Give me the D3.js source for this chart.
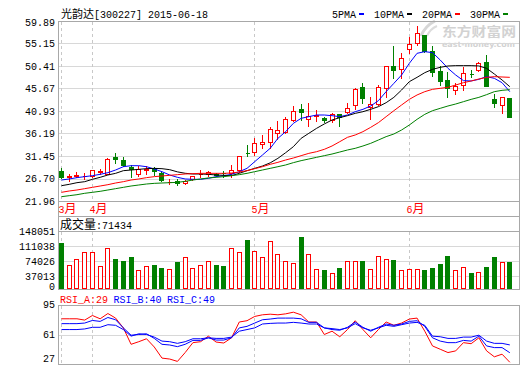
<!DOCTYPE html>
<html><head><meta charset="utf-8">
<script src="https://cdn.jsdelivr.net/npm/d3@7"></script>
<style>html,body{margin:0;padding:0;background:#fff;}svg{display:block;}text{white-space:pre;}</style>
</head><body>
<svg id="c" width="520" height="365"></svg>
<script>
const stockName = "光韵达";
const stockCode = "300227";
const dates = ["2015-03-26","2015-03-27","2015-03-30","2015-03-31",
"2015-04-01","2015-04-02","2015-04-03","2015-04-07","2015-04-08","2015-04-09","2015-04-10","2015-04-13","2015-04-14","2015-04-15","2015-04-16","2015-04-17","2015-04-20","2015-04-21","2015-04-22","2015-04-23","2015-04-24","2015-04-27","2015-04-28","2015-04-29","2015-04-30",
"2015-05-04","2015-05-05","2015-05-06","2015-05-07","2015-05-08","2015-05-11","2015-05-12","2015-05-13","2015-05-14","2015-05-15","2015-05-18","2015-05-19","2015-05-20","2015-05-21","2015-05-22","2015-05-25","2015-05-26","2015-05-27","2015-05-28","2015-05-29",
"2015-06-01","2015-06-02","2015-06-03","2015-06-04","2015-06-05","2015-06-08","2015-06-09","2015-06-10","2015-06-11","2015-06-12","2015-06-15","2015-06-16","2015-06-17","2015-06-18"];
const openP = [28.35,27.09,27.23,27.23,27.30,28.14,27.65,31.30,30.60,29.20,27.65,28.50,28.84,27.79,25.96,26.17,25.68,26.60,27.58,27.58,27.58,27.93,27.79,28.49,32.05,32.22,33.90,34.46,36.22,36.57,39.03,41.28,39.17,39.95,39.52,38.96,40.22,40.79,42.19,45.91,41.84,42.33,45.70,50.41,49.71,53.99,55.32,56.94,53.64,49.42,47.46,45.35,46.40,48.75,49.56,51.18,43.45,42.19,43.59];
const highP = [28.84,27.65,28.14,27.79,28.42,28.63,30.95,32.15,31.16,29.55,29.34,29.41,29.20,28.14,26.67,26.53,26.39,27.30,28.49,28.35,27.79,28.35,29.55,31.44,33.76,35.17,35.87,37.48,38.89,39.59,41.98,42.40,42.54,41.14,39.73,40.43,40.22,42.54,45.70,46.90,43.81,46.40,50.41,54.62,53.22,56.45,58.84,56.94,54.62,50.48,49.21,46.90,50.27,49.56,51.32,52.73,44.51,43.81,43.59];
const lowP = [26.74,26.25,26.95,26.53,27.09,27.65,27.65,30.04,29.34,26.95,27.30,27.65,27.44,26.25,25.54,25.33,25.54,26.39,27.09,27.23,27.30,27.09,27.09,28.14,31.44,31.65,33.20,33.20,34.95,36.22,38.89,39.03,37.76,38.89,38.68,38.68,37.84,40.43,41.28,42.54,39.24,42.19,43.81,47.95,47.81,53.08,54.83,53.43,48.30,46.40,43.81,44.51,45.35,48.16,49.42,46.26,41.70,40.57,39.73];
const closeP = [27.09,27.23,27.44,27.30,28.42,28.28,30.74,30.74,29.55,28.63,28.70,28.63,28.28,26.39,26.03,25.68,26.18,27.30,27.65,28.00,27.44,27.86,28.49,31.44,32.00,34.11,34.46,37.13,36.92,39.24,40.93,40.79,39.87,40.08,38.96,40.29,39.73,41.49,45.56,43.59,42.40,45.91,50.41,49.56,52.02,55.04,57.29,53.64,49.21,47.32,45.70,46.19,48.86,48.70,50.97,46.26,42.54,43.81,39.73];
const volume = [118190,65190,79380,95800,95800,62700,105000,80120,73400,85100,52750,62700,65190,57730,55240,70920,85100,57730,65190,75150,65190,62700,106750,95800,125660,97540,84350,124170,90080,75150,70170,132380,90080,55240,52750,45290,57730,75150,75150,73400,55240,87590,79380,77630,52750,55240,55240,52750,57730,67680,87590,52750,60220,45290,47780,60220,85100,70500,71434];
const ma5 = [26.38,26.60,26.88,27.09,27.30,27.58,27.93,28.49,29.19,29.40,29.40,29.19,28.70,28.14,27.44,26.95,26.60,26.53,26.53,26.74,27.09,27.30,27.58,28.14,28.84,30.25,31.65,33.06,35.16,36.57,38.33,39.38,39.73,40.08,40.08,39.94,39.73,40.08,40.78,41.28,41.98,43.10,45.00,46.75,48.51,50.97,53.08,53.43,53.22,51.67,49.92,48.51,47.32,47.25,47.60,48.16,47.81,46.89,45.00];
const ma10 = [25.19,25.47,25.82,26.03,26.53,26.95,27.44,27.79,28.35,28.49,28.63,28.77,28.84,28.77,28.56,28.10,27.80,27.65,27.65,27.58,27.44,27.37,27.30,27.79,28.35,28.84,29.33,30.00,30.95,32.14,33.41,35.16,36.22,37.27,38.19,39.03,39.52,39.94,40.43,40.78,41.28,41.84,42.68,43.80,45.35,47.11,48.02,49.00,49.70,50.13,50.41,50.48,50.48,50.48,50.41,49.92,48.72,47.46,46.05];
const ma20 = [23.79,24.07,24.28,24.56,24.84,25.12,25.40,25.75,26.03,26.38,26.60,26.88,27.09,27.23,27.37,27.51,27.65,27.72,27.79,27.79,27.79,27.79,27.86,28.07,28.35,28.77,29.19,29.69,30.11,30.60,31.02,31.51,32.00,32.35,32.85,33.55,34.46,35.38,35.87,36.57,37.48,38.47,39.73,40.99,42.19,43.38,44.30,45.00,45.49,45.70,45.91,46.40,46.89,47.25,47.67,48.02,48.16,48.09,48.02];
const ma30 = [22.87,23.08,23.29,23.58,23.79,24.00,24.28,24.56,24.84,25.12,25.33,25.54,25.68,25.75,25.82,25.89,26.10,26.38,26.60,26.81,26.95,27.09,27.30,27.51,27.79,28.14,28.49,28.84,29.19,29.55,30.04,30.46,30.81,31.16,31.51,31.86,32.28,32.71,33.06,33.55,34.11,34.81,35.52,36.08,36.92,37.97,39.17,40.22,40.99,41.49,41.98,42.40,42.89,43.38,43.80,44.37,45.00,45.28,45.42];
const rsiA = [79.1,79.1,79.1,77.6,82.9,79.1,85.2,79.9,68.6,49.7,52.7,56.1,46.6,33.8,32.7,30.0,40.2,51.6,52.7,59.1,52.3,51.2,57.2,75.4,76.9,81.8,83.7,84.4,83.7,84.8,86.7,83.7,75.4,75.4,61.0,64.8,58.4,66.7,76.9,66.7,57.2,66.7,75.4,71.6,74.2,78.8,79.9,64.8,47.8,44.0,40.2,42.1,51.6,50.4,57.2,42.1,35.3,38.3,29];
const rsiB = [73.5,73.5,73.5,74.2,77.2,76.1,80.6,78.0,68.6,60.2,61.0,61.8,56.5,49.7,48.9,47.0,49.7,54.2,54.2,57.2,54.6,54.6,57.2,68.6,70.4,74.2,78.0,78.8,79.9,79.9,79.9,79.1,75.0,75.0,68.6,66.7,65.9,69.3,75.4,69.3,64.8,69.3,73.1,71.6,73.1,76.1,76.9,70.4,57.2,53.4,51.6,51.6,54.2,53.4,59.1,47.8,45.9,45.9,40];
const rsiC = [66.7,66.7,66.7,67.4,69.3,69.3,72.3,71.6,66.7,59.1,61.8,61.0,58.0,53.4,52.7,50.8,52.7,56.1,56.1,57.2,56.5,56.5,58.0,64.8,66.7,68.6,73.1,73.8,74.2,74.2,75.0,74.2,73.1,73.1,68.6,67.8,66.7,68.6,73.5,68.6,65.9,68.6,71.6,70.4,72.3,74.2,75.0,71.6,59.1,58.4,56.5,56.5,58.0,58.0,60.2,53.4,50.8,50.8,49];
const priceTicks = [59.89,55.15,50.41,45.67,40.93,36.19,31.45,26.70,21.96];
const volTicks = [148051,111038,74026,37013,0];
const rsiTicks = [95,61,27];
const maNames = ["5PMA","10PMA","20PMA","30PMA"];

const RED="#ff0000", GREEN="#008000", BLUE="#0000ff";
const MONO="'Liberation Mono','DejaVu Sans Mono',monospace";
const CJK="'Noto Sans CJK SC','Noto Sans CJK JP',sans-serif";
const FRAME="#a8a8a8", GRID="#d8d8d8", DASH="#c8c8c8";
const L=58, R=519;
const n = dates.length;
const svg = d3.select("#c");
const x = d3.scaleLinear().domain([0,n-1]).range([61,509.3]);
const yP = d3.scaleLinear().domain([21.96,59.89]).range([201,21]);
const yV = d3.scaleLinear().domain([0,148051]).range([291,231]);
const yR = d3.scaleLinear().domain([27,95]).range([364,305]);
const px = v => Math.round(v)+0.5;
const cx = i => Math.round(x(i));

function mixed(g, str, X, Y, fill, cjkSize, monoSize){
  const t = g.append("text").attr("x",X).attr("y",Y).attr("fill",fill);
  const re=/[\u2E80-\u9FFF\uFF00-\uFFEF]+|[^\u2E80-\u9FFF\uFF00-\uFFEF]+/g;
  for(const m of str.match(re)){
    const c=/[\u2E80-\u9FFF\uFF00-\uFFEF]/.test(m);
    t.append("tspan").attr("font-family",c?CJK:MONO).attr("font-size",c?cjkSize:monoSize).text(m);
  }
  return t;
}
function hline(y, x1, x2, col, dash){
  const l = svg.append("line").attr("x1",x1).attr("x2",x2).attr("y1",px(y)).attr("y2",px(y)).attr("stroke",col).attr("shape-rendering","crispEdges");
  if(dash) l.attr("stroke-dasharray",dash);
}
function vline(X, y1, y2, col, dash){
  const l = svg.append("line").attr("x1",X).attr("x2",X).attr("y1",y1).attr("y2",y2).attr("stroke",col).attr("shape-rendering","crispEdges");
  if(dash) l.attr("stroke-dasharray",dash);
}

// watermark
const wm = svg.append("g");
wm.append("path").attr("d","M421,36 Q425,26 435,21").attr("fill","none").attr("stroke","#d6d6d6").attr("stroke-width",3);
wm.append("path").attr("d","M427,36 Q430,29 437,26").attr("fill","none").attr("stroke","#dcdcdc").attr("stroke-width",2);
wm.append("text").attr("x",442).attr("y",36).attr("font-family",CJK).attr("font-weight","bold").attr("font-size",13).attr("fill","#d2d2d2").attr("textLength",74).attr("lengthAdjust","spacingAndGlyphs").text("东方财富网");
wm.append("text").attr("x",442).attr("y",46.5).attr("font-family","'DejaVu Sans',sans-serif").attr("font-weight","bold").attr("font-size",7.5).attr("fill","#d2d2d2").attr("textLength",73).attr("lengthAdjust","spacingAndGlyphs").text("east-money.com");

// month starts
const monthStarts = [];
dates.forEach((d,i)=>{ if(i===0 || d.slice(5,7)!==dates[i-1].slice(5,7)) monthStarts.push(i); });

// grids
priceTicks.forEach((t,k)=>{ hline(yP(t), L, R, (k===0||k===priceTicks.length-1)?FRAME:GRID); });
hline(216, L, R, FRAME);
volTicks.forEach((t,k)=>{ if(t>0) hline(yV(t), L, R, k===0?FRAME:GRID); });
hline(289, L, R, FRAME);
rsiTicks.forEach((t,k)=>{ hline(yR(t), L, R, (k===0||k===rsiTicks.length-1)?FRAME:GRID); });
monthStarts.forEach(i=>{
  const X = cx(i)+0.5;
  vline(X, 22, 201, DASH, "3,3");
  vline(X, 232, 289, DASH, "3,3");
  vline(X, 306, 364, DASH, "3,3");
});
[L+0.5, R+0.5].forEach(X=>{ vline(X,21,290,FRAME); vline(X,305,365,FRAME); });

// axes labels
function styleAxis(g){ g.select(".domain").remove(); g.selectAll("text").attr("font-family",MONO).attr("font-size",10).attr("fill","#000"); }
const aP = svg.append("g").attr("transform",`translate(${L},0)`)
  .call(d3.axisLeft(yP).tickValues(priceTicks).tickSize(0).tickPadding(3).tickFormat(d=>d.toFixed(2)));
styleAxis(aP);
aP.selectAll(".tick text").attr("y", d=> d===priceTicks[0]?1.5:0);
const aV = svg.append("g").attr("transform",`translate(${L},0)`)
  .call(d3.axisLeft(yV).tickValues(volTicks).tickSize(0).tickPadding(3).tickFormat(d3.format("d")));
styleAxis(aV);
aV.selectAll(".tick text").attr("y", d=> d===0?-5:0.5);
const aR = svg.append("g").attr("transform",`translate(${L},0)`)
  .call(d3.axisLeft(yR).tickValues(rsiTicks).tickSize(0).tickPadding(3).tickFormat(d3.format("d")));
styleAxis(aR);
aR.selectAll(".tick text").attr("y", d=> d===27?-5.5:(d===95?-1:0));

// month labels
monthStarts.forEach(i=>{
  mixed(svg, (+dates[i].slice(5,7))+"月", cx(i)-2.5, 213, RED, 12, 10);
});

// title & legend
mixed(svg, `${stockName}[${stockCode}] ${dates[n-1]}`, 61, 18, "#000", 11, 10);
const maColors=[BLUE,"#000000",RED,GREEN];
const legX=[332,374,422,470];
maNames.forEach((nm,k)=>{
  svg.append("text").attr("x",legX[k]).attr("y",18).attr("font-family",MONO).attr("font-size",10).attr("fill","#000").text(nm);
  svg.append("rect").attr("x",legX[k]+nm.length*6+3).attr("y",13).attr("width",5).attr("height",2).attr("fill",maColors[k]);
});

// candles
const up = i => closeP[i] >= openP[i];
const cg = svg.append("g").attr("shape-rendering","crispEdges");
d3.range(n).forEach(i=>{
  const c = cx(i), col = up(i)?RED:GREEN;
  cg.append("line").attr("x1",c+0.5).attr("x2",c+0.5).attr("y1",Math.round(yP(highP[i]))).attr("y2",Math.round(yP(lowP[i]))+1).attr("stroke",col);
  const yt = px(yP(Math.max(openP[i],closeP[i]))), yb = px(yP(Math.min(openP[i],closeP[i])));
  cg.append("path").attr("d",`M${c-1.5},${yt}H${c+2.5}V${yb}H${c-1.5}Z`)
    .attr("fill", up(i)?"#fff":GREEN).attr("stroke",col);
});

// MAs
const mas=[ma5,ma10,ma20,ma30];
const lineP = d3.line().x((d,i)=>x(i)+0.5).y(d=>yP(d));
mas.forEach((m,k)=>{
  svg.append("path").attr("d",lineP(m)).attr("fill","none").attr("stroke",maColors[k]).attr("stroke-width",1);
});

// volume
const vg = svg.append("g").attr("shape-rendering","crispEdges");
d3.range(n).forEach(i=>{
  const c = cx(i), col = up(i)?RED:GREEN;
  const yt = px(yV(volume[i]));
  vg.append("path").attr("d",`M${c-1.5},${yt}H${c+2.5}V${288.5}H${c-1.5}Z`).attr("fill",up(i)?"#fff":GREEN).attr("stroke",col);
});
mixed(svg, "成交量:"+volume[n-1], 60, 229, "#000", 12, 10);

// RSI
const lineR = d3.line().x((d,i)=>x(i)+0.5).y(d=>yR(d));
[[rsiA,RED],[rsiB,BLUE],[rsiC,BLUE]].forEach(([s,col])=>{
  svg.append("path").attr("d",lineR(s)).attr("fill","none").attr("stroke",col).attr("stroke-width",1);
});
const rsiLeg=[["RSI_A:"+rsiA[n-1],RED,60],["RSI_B:"+rsiB[n-1],BLUE,113.5],["RSI_C:"+rsiC[n-1],BLUE,167]];
rsiLeg.forEach(([t,col,X])=>{
  svg.append("text").attr("x",X).attr("y",303).attr("font-family",MONO).attr("font-size",10).attr("fill",col).text(t);
});
</script>
</body></html>
